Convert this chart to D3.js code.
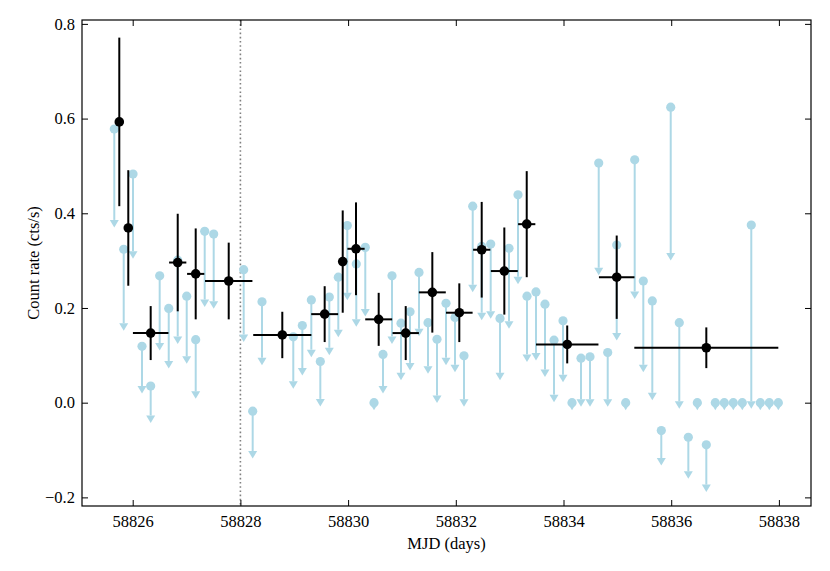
<!DOCTYPE html>
<html><head><meta charset="utf-8">
<script src="https://cdn.jsdelivr.net/npm/d3@7"></script>
</head><body style="margin:0"><svg id="c" width="830" height="571" style="display:block;background:#fff"></svg>
<script>
// Upper limits (light blue): time, limit value, arrow base
const ulT = [58825.658,58825.833,58826.006,58826.173,58826.334,58826.501,58826.669,58826.836,58827.003,58827.170,58827.337,58827.504,
58828.061,58828.228,58828.401,58828.982,58829.150,58829.317,58829.484,58829.651,58829.818,58829.985,58830.152,58830.319,58830.481,
58830.648,58830.815,58830.982,58831.150,58831.317,58831.484,58831.651,58831.818,58831.985,58832.152,58832.314,58832.481,58832.648,
58832.821,58832.988,58833.155,58833.322,58833.489,58833.656,58833.824,58833.991,58834.158,58834.325,58834.492,58834.654,58834.821,
58834.988,58835.155,58835.322,58835.482,58835.649,58835.816,58835.991,58836.150,58836.318,58836.485,58836.652,58836.819,58836.986,
58837.153,58837.320,58837.487,58837.655,58837.822,58837.989];
const ulV = [0.578,0.324,0.483,0.119,0.035,0.268,0.199,0.301,0.225,0.133,0.362,0.356,
0.281,-0.018,0.213,0.139,0.163,0.217,0.087,0.223,0.265,0.374,0.293,0.328,0.000,
0.102,0.268,0.168,0.192,0.275,0.169,0.134,0.210,0.180,0.099,0.415,0.330,0.335,
0.178,0.326,0.439,0.225,0.234,0.208,0.132,0.173,0.000,0.094,0.097,0.506,0.106,
0.333,0.000,0.513,0.257,0.215,-0.059,0.624,0.169,-0.073,0.000,-0.089,0.000,0.000,
0.000,0.000,0.375,0.000,0.000,0.000];
const ulLo = [0.386,0.168,0.320,0.035,-0.027,0.126,0.088,0.140,0.098,0.024,0.218,0.214,
0.144,-0.102,0.095,0.045,0.073,0.112,0.008,0.116,0.154,0.232,0.176,0.198,0.000,
0.035,0.140,0.063,0.084,0.156,0.077,0.015,0.095,0.080,0.007,0.249,0.190,0.193,
0.063,0.172,0.266,0.102,0.105,0.070,0.017,0.059,0.000,0.007,0.007,0.285,0.007,
0.147,0.000,0.235,0.080,0.021,-0.117,0.316,0.003,-0.145,0.000,-0.173,0.000,0.000,
0.000,0.000,0.003,0.000,0.000,0.000];

// Detections (black): time, half-width (days), rate, error
const detT = [58825.751,58825.918,58826.334,58826.836,58827.170,58827.783,58828.778,58829.565,58829.900,58830.147,
58830.568,58831.070,58831.564,58832.065,58832.481,58832.901,58833.317,58834.069,58834.988,58836.652];
const detXerr = [0,0,0.33,0.16,0.16,0.44,0.54,0.25,0,0.16,0.25,0.245,0.25,0.247,0.16,0.25,0.16,0.58,0.33,1.337];
const detV = [0.593,0.369,0.147,0.296,0.272,0.257,0.143,0.187,0.298,0.325,0.176,0.147,0.233,0.190,0.323,0.278,0.377,0.123,0.265,0.116];
const detErr = [0.178,0.122,0.057,0.103,0.096,0.081,0.049,0.059,0.108,0.098,0.056,0.057,0.085,0.062,0.101,0.092,0.112,0.040,0.088,0.043];

const xTicks = [58826,58828,58830,58832,58834,58836,58838];
const yTicks = [-0.2,0.0,0.2,0.4,0.6,0.8];
const vLineT = 58828;
const xLabel = "MJD (days)";
const yLabel = "Count rate (cts/s)";

const L=82,R=811,T=20,B=506;
const FONT = '"Liberation Serif"';
const svg = d3.select("#c");
const x = d3.scaleLinear().domain([58825.0585,58838.596]).range([L,R]);
const y = d3.scaleLinear().domain([-0.2182,0.8082]).range([B,T]);
const blue = "#add8e6";

const g = svg.append("g");
g.append("line").attr("x1",x(vLineT)).attr("x2",x(vLineT)).attr("y1",T).attr("y2",B)
 .attr("stroke","#808080").attr("stroke-width",1.6).attr("stroke-dasharray","1.6,2.6");

const ul = ulT.map((t,i)=>({t,v:ulV[i],lo:ulLo[i]}));
const ug = g.append("g");
ug.selectAll("line.u").data(ul).join("line")
  .attr("x1",d=>x(d.t)).attr("x2",d=>x(d.t)).attr("y1",d=>y(d.v)).attr("y2",d=>y(d.lo))
  .attr("stroke",blue).attr("stroke-width",2);
ug.selectAll("path.a").data(ul).join("path")
  .attr("d",d=>{const cx=x(d.t),cy=y(d.lo);return `M${cx-4.5},${cy}L${cx+4.5},${cy}L${cx},${cy+7.5}Z`;})
  .attr("fill",blue);
ug.selectAll("circle").data(ul).join("circle")
  .attr("cx",d=>x(d.t)).attr("cy",d=>y(d.v)).attr("r",4.6).attr("fill",blue);

const det = detT.map((t,i)=>({t,xe:detXerr[i],v:detV[i],e:detErr[i]}));
const dg = g.append("g");
dg.selectAll("line.v").data(det).join("line")
  .attr("x1",d=>x(d.t)).attr("x2",d=>x(d.t)).attr("y1",d=>y(d.v+d.e)).attr("y2",d=>y(d.v-d.e))
  .attr("stroke","#000").attr("stroke-width",2);
dg.selectAll("line.h").data(det.filter(d=>d.xe>0)).join("line")
  .attr("x1",d=>x(d.t-d.xe)).attr("x2",d=>x(d.t+d.xe)).attr("y1",d=>y(d.v)).attr("y2",d=>y(d.v))
  .attr("stroke","#000").attr("stroke-width",2);
dg.selectAll("circle").data(det).join("circle")
  .attr("cx",d=>x(d.t)).attr("cy",d=>y(d.v)).attr("r",4.8).attr("fill","#000");

const fmtY = d3.format(".1f");
function style(sel){
  sel.attr("font-family",null).attr("font-size",null);
  sel.select(".domain").remove();
  sel.selectAll(".tick line").attr("stroke","#000").attr("stroke-width",1);
  sel.selectAll(".tick text").style("font-family",FONT).style("font-size","16.5px").attr("fill","#000");
}
svg.append("g").attr("transform",`translate(0,${B})`)
  .call(d3.axisBottom(x).tickValues(xTicks).tickFormat(d3.format("d")).tickSize(-6).tickPadding(9)).call(style);
svg.append("g").attr("transform",`translate(0,${T})`)
  .call(d3.axisTop(x).tickValues(xTicks).tickFormat("").tickSize(-6)).call(style);
svg.append("g").attr("transform",`translate(${L},0)`)
  .call(d3.axisLeft(y).tickValues(yTicks).tickFormat(fmtY).tickSize(-6).tickPadding(7)).call(style);
svg.append("g").attr("transform",`translate(${R},0)`)
  .call(d3.axisRight(y).tickValues(yTicks).tickFormat("").tickSize(-6)).call(style);

svg.append("rect").attr("x",L).attr("y",T).attr("width",R-L).attr("height",B-T)
  .attr("fill","none").attr("stroke","#000").attr("stroke-width",1.2);

svg.append("text").attr("x",(L+R)/2).attr("y",549).attr("text-anchor","middle")
  .style("font-family",FONT).style("font-size","16.5px").text(xLabel);
svg.append("text").attr("transform",`translate(39,${(T+B)/2}) rotate(-90)`).attr("text-anchor","middle")
  .style("font-family",FONT).style("font-size","16.5px").text(yLabel);
</script></body></html>
